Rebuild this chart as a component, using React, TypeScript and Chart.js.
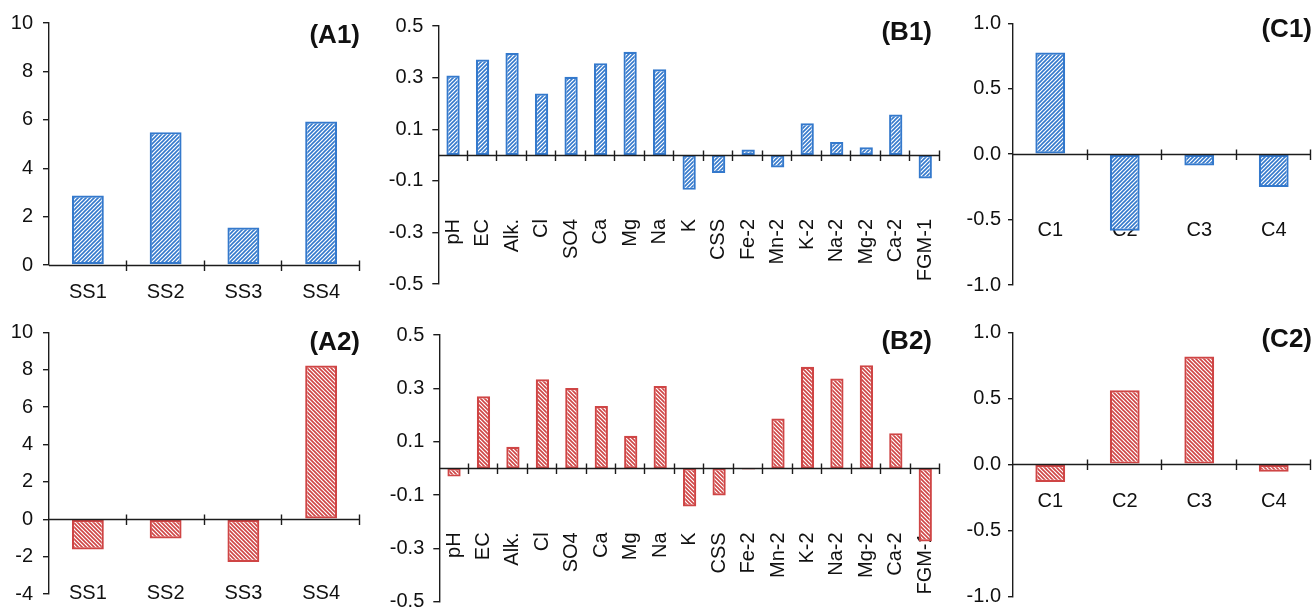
import React, { useEffect, useRef } from 'react';
import { Chart, registerables } from 'chart.js';

Chart.register(...registerables);

// ---------- data ----------
const SITES = ['SS1', 'SS2', 'SS3', 'SS4'];
const A1_VALUES = [2.87, 5.49, 1.55, 5.93];
const A2_VALUES = [-1.62, -1.03, -2.29, 8.22];

const PARAMS = ['pH', 'EC', 'Alk.', 'Cl', 'SO4', 'Ca', 'Mg', 'Na', 'K', 'CSS', 'Fe-2', 'Mn-2', 'K-2', 'Na-2', 'Mg-2', 'Ca-2', 'FGM-1'];
const B1_VALUES = [0.308, 0.37, 0.395, 0.238, 0.303, 0.356, 0.4, 0.332, -0.135, -0.07, 0.021, -0.048, 0.123, 0.05, 0.03, 0.157, -0.091];
const B2_VALUES = [-0.031, 0.27, 0.081, 0.334, 0.301, 0.234, 0.122, 0.309, -0.143, -0.102, -0.004, 0.187, 0.381, 0.337, 0.387, 0.132, -0.274];

const COMPONENTS = ['C1', 'C2', 'C3', 'C4'];
const C1_VALUES = [0.776, -0.585, -0.087, -0.252];
const C2_VALUES = [-0.134, 0.561, 0.816, -0.056];

const A1_TICKS = [0, 2, 4, 6, 8, 10];
const A2_TICKS = [-4, -2, 0, 2, 4, 6, 8, 10];
const B_TICKS = [-0.5, -0.3, -0.1, 0.1, 0.3, 0.5];
const C_TICKS = [-1, -0.5, 0, 0.5, 1];

const TITLES = ['(A1)', '(A2)', '(B1)', '(B2)', '(C1)', '(C2)'];

// ---------- style ----------
const FAMILY = '"Liberation Sans", Arial, Helvetica, sans-serif';
const TEXT = '#111111';
const AXIS = '#1c1c1c';
const BLUE = '#3479cc';
const RED = '#cf4545';
const LABEL_SIZE = 20;
const TITLE_SIZE = 26;

type Spec = {
  labels: string[];
  values: number[];
  ticks: number[];
  decimals: number;
  color: string;
  dir: 'fwd' | 'back';
  title: string;
  L: number; T: number; W: number; H: number;
  axL: number; axR: number; axT: number; axB: number;
  barPct: number;
  labelOffset: number;
  rotated: boolean;
  titleX: number; titleY: number;
  tickLen: number; tickPad: number;
};

const SPECS: Spec[] = [
  {
    labels: SITES, values: A1_VALUES, ticks: A1_TICKS, decimals: 0, color: BLUE, dir: 'fwd', title: TITLES[0],
    L: 0, T: 0, W: 380, H: 305, axL: 49, axR: 360, axT: 23, axB: 265,
    barPct: 0.41, labelOffset: 27, rotated: false, titleX: 360, titleY: 36, tickLen: 6, tickPad: 10,
  },
  {
    labels: SITES, values: A2_VALUES, ticks: A2_TICKS, decimals: 0, color: RED, dir: 'back', title: TITLES[1],
    L: 0, T: 305, W: 380, H: 320, axL: 49, axR: 360, axT: 332.3, axB: 594,
    barPct: 0.41, labelOffset: 74, rotated: false, titleX: 360, titleY: 342.5, tickLen: 6, tickPad: 10,
  },
  {
    labels: PARAMS, values: B1_VALUES, ticks: B_TICKS, decimals: 1, color: BLUE, dir: 'fwd', title: TITLES[2],
    L: 375, T: 0, W: 575, H: 305, axL: 438.3, axR: 940, axT: 26, axB: 291,
    barPct: 0.45, labelOffset: 64, rotated: true, titleX: 932, titleY: 32.5, tickLen: 6, tickPad: 9,
  },
  {
    labels: PARAMS, values: B2_VALUES, ticks: B_TICKS, decimals: 1, color: RED, dir: 'back', title: TITLES[3],
    L: 375, T: 305, W: 575, H: 320, axL: 439.3, axR: 940, axT: 335, axB: 601.7,
    barPct: 0.45, labelOffset: 64, rotated: true, titleX: 932, titleY: 341.5, tickLen: 6, tickPad: 9,
  },
  {
    labels: COMPONENTS, values: C1_VALUES, ticks: C_TICKS, decimals: 1, color: BLUE, dir: 'fwd', title: TITLES[4],
    L: 950, T: 0, W: 363, H: 305, axL: 1013, axR: 1311, axT: 23.3, axB: 285,
    barPct: 0.4, labelOffset: 76, rotated: false, titleX: 1312, titleY: 30, tickLen: 5, tickPad: 7,
  },
  {
    labels: COMPONENTS, values: C2_VALUES, ticks: C_TICKS, decimals: 1, color: RED, dir: 'back', title: TITLES[5],
    L: 950, T: 305, W: 363, H: 320, axL: 1013, axR: 1311, axT: 332.3, axB: 596.3,
    barPct: 0.4, labelOffset: 37, rotated: false, titleX: 1312, titleY: 340, tickLen: 5, tickPad: 7,
  },
];

function makeHatch(color: string, dir: 'fwd' | 'back'): CanvasPattern | string {
  const s = 4;
  const c = document.createElement('canvas');
  c.width = s;
  c.height = s;
  const g = c.getContext('2d');
  if (!g) return color;
  g.fillStyle = '#ffffff';
  g.fillRect(0, 0, s, s);
  g.strokeStyle = color;
  g.lineWidth = 1.6;
  g.beginPath();
  if (dir === 'fwd') {
    g.moveTo(-1, s + 1); g.lineTo(s + 1, -1);
    g.moveTo(-1, 1); g.lineTo(1, -1);
    g.moveTo(s - 1, s + 1); g.lineTo(s + 1, s - 1);
  } else {
    g.moveTo(-1, -1); g.lineTo(s + 1, s + 1);
    g.moveTo(s - 1, -1); g.lineTo(s + 1, 1);
    g.moveTo(-1, s - 1); g.lineTo(1, s + 1);
  }
  g.stroke();
  const p = g.createPattern(c, 'repeat');
  return p || color;
}

function Panel({ spec }: { spec: Spec }) {
  const ref = useRef<HTMLCanvasElement>(null);

  useEffect(() => {
    const canvas = ref.current;
    if (!canvas) return;
    const ctx = canvas.getContext('2d');
    if (!ctx) return;

    const decor = {
      id: 'decor' + spec.title,
      beforeDatasetsDraw(chart: any) {
        const c = chart.ctx as CanvasRenderingContext2D;
        const xs = chart.scales.x;
        const ys = chart.scales.y;
        const y0 = ys.getPixelForValue(0);
        c.save();
        c.fillStyle = TEXT;
        c.font = `${LABEL_SIZE}px ${FAMILY}`;
        spec.labels.forEach((lab, i) => {
          const cx = xs.getPixelForValue(i);
          if (spec.rotated) {
            c.save();
            c.translate(cx, y0 + spec.labelOffset);
            c.rotate(-Math.PI / 2);
            c.textAlign = 'right';
            c.textBaseline = 'middle';
            c.fillText(lab, 0, 0);
            c.restore();
          } else {
            c.textAlign = 'center';
            c.textBaseline = 'middle';
            c.fillText(lab, cx, y0 + spec.labelOffset);
          }
        });
        c.restore();
      },
      afterDatasetsDraw(chart: any) {
        const c = chart.ctx as CanvasRenderingContext2D;
        const area = chart.chartArea;
        const ys = chart.scales.y;
        const y0 = Math.round(ys.getPixelForValue(0)) + 0.5;
        const n = spec.labels.length;
        c.save();
        c.strokeStyle = AXIS;
        c.lineWidth = 1.4;
        c.beginPath();
        c.moveTo(area.left, y0);
        c.lineTo(area.right, y0);
        for (let i = 1; i <= n; i++) {
          const x = Math.round(area.left + (i * (area.right - area.left)) / n) - 0.5;
          c.moveTo(x, y0 - 5);
          c.lineTo(x, y0 + 5.5);
        }
        c.stroke();
        c.fillStyle = TEXT;
        c.font = `bold ${TITLE_SIZE}px ${FAMILY}`;
        c.textAlign = 'right';
        c.textBaseline = 'middle';
        c.fillText(spec.title, spec.titleX - spec.L, spec.titleY - spec.T);
        c.restore();
      },
    };

    const min = spec.ticks[0];
    const max = spec.ticks[spec.ticks.length - 1];
    const yWidth = spec.axL - spec.L;

    const chart = new Chart(ctx, {
      type: 'bar',
      data: {
        labels: spec.labels,
        datasets: [
          {
            data: spec.values,
            backgroundColor: makeHatch(spec.color, spec.dir) as any,
            borderColor: spec.color,
            borderWidth: 2.2,
            borderSkipped: false,
            barPercentage: spec.barPct,
            categoryPercentage: 1,
          },
        ],
      },
      options: {
        responsive: false,
        animation: false,
        events: [],
        layout: {
          padding: {
            left: 0,
            top: spec.axT - spec.T,
            right: spec.L + spec.W - spec.axR,
            bottom: spec.T + spec.H - spec.axB,
          },
        },
        plugins: {
          legend: { display: false },
          tooltip: { enabled: false },
          title: { display: false },
        },
        scales: {
          x: {
            type: 'category',
            display: false,
            offset: true,
          },
          y: {
            type: 'linear',
            min,
            max,
            afterBuildTicks: (scale: any) => {
              scale.ticks = spec.ticks.map((v) => ({ value: v }));
            },
            afterFit: (scale: any) => {
              scale.width = yWidth;
            },
            ticks: {
              color: TEXT,
              padding: spec.tickPad,
              font: { family: FAMILY, size: LABEL_SIZE },
              callback: (v: any) => Number(v).toFixed(spec.decimals),
            },
            grid: {
              display: true,
              drawOnChartArea: false,
              drawTicks: true,
              tickLength: spec.tickLen,
              color: AXIS,
              lineWidth: 1.4,
            },
            border: { display: true, color: AXIS, width: 1.4 },
          },
        },
      } as any,
      plugins: [decor],
    });

    return () => chart.destroy();
  }, [spec]);

  return (
    <div style={{ position: 'absolute', left: spec.L, top: spec.T, width: spec.W, height: spec.H }}>
      <canvas ref={ref} width={spec.W} height={spec.H} style={{ width: spec.W, height: spec.H, display: 'block' }} />
    </div>
  );
}

export default function App() {
  return (
    <div
      style={{
        position: 'fixed',
        left: 0,
        top: 0,
        width: 1313,
        height: 609,
        overflow: 'hidden',
        background: '#ffffff',
      }}
    >
      {SPECS.map((s) => (
        <Panel key={s.title} spec={s} />
      ))}
    </div>
  );
}
